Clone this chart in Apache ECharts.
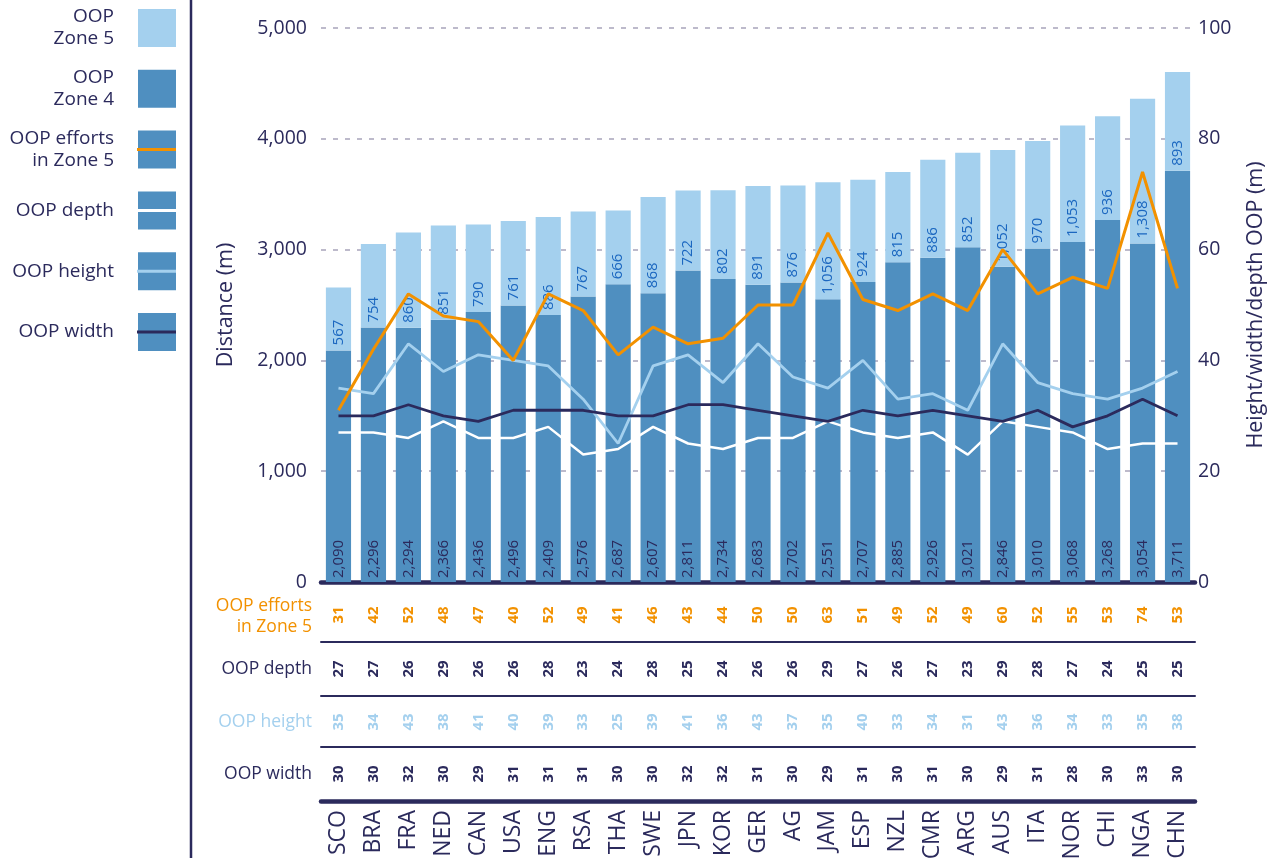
<!DOCTYPE html>
<html>
<head>
<meta charset="utf-8">
<script src="https://cdn.jsdelivr.net/npm/echarts@6/dist/echarts.min.js"></script>
<style>
  html, body { margin: 0; padding: 0; background: #ffffff; }
  #chart { width: 1274px; height: 858px; }
</style>
</head>
<body>
<div id="chart"></div>
<script>
// Teams (x categories)
const categories = ['SCO','BRA','FRA','NED','CAN','USA','ENG','RSA','THA','SWE','JPN','KOR','GER','AG','JAM','ESP','NZL','CMR','ARG','AUS','ITA','NOR','CHI','NGA','CHN'];

// Distance (m) covered out of possession, stacked by zone
const zone4 = [2090,2296,2294,2366,2436,2496,2409,2576,2687,2607,2811,2734,2683,2702,2551,2707,2885,2926,3021,2846,3010,3068,3268,3054,3711];
const zone5 = [567,754,860,851,790,761,886,767,666,868,722,802,891,876,1056,924,815,886,852,1052,970,1053,936,1308,893];

// Out-of-possession shape metrics (m) and efforts in zone 5
const efforts = [31,42,52,48,47,40,52,49,41,46,43,44,50,50,63,51,49,52,49,60,52,55,53,74,53];
const depth   = [27,27,26,29,26,26,28,23,24,28,25,24,26,26,29,27,26,27,23,29,28,27,24,25,25];
const height  = [35,34,43,38,41,40,39,33,25,39,41,36,43,37,35,40,33,34,31,43,36,34,33,35,38];
const width   = [30,30,32,30,29,31,31,31,30,30,32,32,31,30,29,31,30,31,30,29,31,28,30,33,30];

// Axis ranges
const distanceAxis = { min: 0, max: 5000, interval: 1000 };
const metricAxis = { min: 0, max: 100, interval: 20 };

const NAVY = '#2b2a5c';
const ORANGE = '#f29100';
const LIGHT = '#a4d0ee';
const MID = '#4f8fc0';
const Z5TEXT = '#1b67c0';
const FONT = 'Open Sans';

const fmt = v => String(v).replace(/\B(?=(\d{3})+(?!\d))/g, ',');

const GRID = { left: 321, right: 79, top: 28, bottom: 276, outerBoundsMode: 'none', containLabel: false };

// Table rows under the chart: values, colour, vertical offset from the axis line
const rows = [
  { values: efforts, color: ORANGE, offset: 33 },
  { values: depth, color: NAVY, offset: 87 },
  { values: height, color: LIGHT, offset: 140 },
  { values: width, color: NAVY, offset: 192 }
];
// Row captions at the left of the table
const rowNames = [
  { name: 'OOP efforts', color: ORANGE, offset: 24 },
  { name: 'in Zone 5', color: ORANGE, offset: 45 },
  { name: 'OOP depth', color: NAVY, offset: 87 },
  { name: 'OOP height', color: LIGHT, offset: 140 },
  { name: 'OOP width', color: NAVY, offset: 192 }
];
const separators = [60, 114, 165];

const hidden = { axisLine: { show: false }, axisTick: { show: false }, splitLine: { show: false } };

const xAxes = [];
// main category axis (bars and lines)
xAxes.push({
  type: 'category', data: categories, gridIndex: 0, position: 'bottom',
  axisLine: { show: true, lineStyle: { color: NAVY, width: 4.5 } },
  axisTick: { show: false }, axisLabel: { show: false }, splitLine: { show: false }
});
rows.forEach(r => {
  xAxes.push(Object.assign({
    type: 'category', data: categories, gridIndex: 0, position: 'bottom', offset: r.offset,
    axisLabel: {
      interval: 0, rotate: 90, margin: 0, align: 'center', verticalAlign: 'middle',
      color: r.color, fontFamily: FONT, fontWeight: 'bold', fontSize: 15,
      formatter: (v, i) => String(r.values[i])
    }
  }, hidden));
});
rowNames.forEach(r => {
  xAxes.push(Object.assign({
    type: 'category', data: categories, gridIndex: 0, position: 'bottom', offset: r.offset,
    axisLabel: { show: false },
    name: r.name, nameLocation: 'start', nameGap: 9, nameMoveOverlap: false,
    nameTextStyle: { color: r.color, fontFamily: FONT, fontSize: 17.5, align: 'right', verticalAlign: 'middle' }
  }, hidden));
});
separators.forEach(off => {
  xAxes.push({
    type: 'category', data: categories, gridIndex: 0, position: 'bottom', offset: off,
    axisLine: { show: true, lineStyle: { color: NAVY, width: 2 } },
    axisTick: { show: false }, axisLabel: { show: false }, splitLine: { show: false }
  });
});
// team names row
xAxes.push({
  type: 'category', data: categories, gridIndex: 0, position: 'bottom', offset: 219,
  axisLine: { show: true, lineStyle: { color: NAVY, width: 4.5 } },
  axisTick: { show: false }, splitLine: { show: false },
  axisLabel: { interval: 0, rotate: 90, margin: 9, color: NAVY, fontFamily: FONT, fontSize: 23 }
});

// Legend drawn as swatches with text on the left side
const legendItems = [
  { text: 'OOP\nZone 5', fill: LIGHT, line: null },
  { text: 'OOP\nZone 4', fill: MID, line: null },
  { text: 'OOP efforts\nin Zone 5', fill: MID, line: ORANGE },
  { text: 'OOP depth', fill: MID, line: '#ffffff' },
  { text: 'OOP height', fill: MID, line: LIGHT },
  { text: 'OOP width', fill: MID, line: NAVY }
];
const graphics = [];
legendItems.forEach((it, i) => {
  const top = 9 + i * 60.8;
  graphics.push({ type: 'rect', shape: { x: 138, y: top, width: 38, height: 38 }, style: { fill: it.fill } });
  if (it.line) {
    graphics.push({ type: 'line', shape: { x1: 137, y1: top + 19, x2: 176, y2: top + 19 }, style: { stroke: it.line, lineWidth: 3 } });
  }
  graphics.push({
    type: 'text', x: 114, y: top + 19,
    style: { text: it.text, fill: NAVY, font: '19px "Open Sans"', align: 'right', verticalAlign: 'middle', lineHeight: 22 }
  });
});
graphics.push({ type: 'line', shape: { x1: 191, y1: 0, x2: 191, y2: 858 }, style: { stroke: NAVY, lineWidth: 2.5 } });

const lineSeries = (name, data, color, w) => ({
  name, type: 'line', data, xAxisIndex: 0, yAxisIndex: 1,
  symbol: 'none', lineStyle: { color, width: w }, itemStyle: { color }, z: 5
});

const option = {
  animation: false,
  backgroundColor: '#ffffff',
  textStyle: { fontFamily: FONT },
  grid: GRID,
  graphic: graphics,
  xAxis: xAxes,
  yAxis: [
    {
      type: 'value', min: distanceAxis.min, max: distanceAxis.max, interval: distanceAxis.interval,
      axisLine: { show: false }, axisTick: { show: false },
      axisLabel: { color: NAVY, fontFamily: FONT, fontSize: 19.5, margin: 14, formatter: fmt },
      splitLine: { show: true, lineStyle: { color: '#a8a4ba', width: 1.5, type: [5, 7] } },
      name: 'Distance (m)', nameLocation: 'middle', nameRotate: 90, nameGap: 84,
      nameTextStyle: { color: NAVY, fontFamily: FONT, fontSize: 21.5 }
    },
    {
      type: 'value', min: metricAxis.min, max: metricAxis.max, interval: metricAxis.interval,
      axisLine: { show: false }, axisTick: { show: false }, splitLine: { show: false },
      axisLabel: { color: NAVY, fontFamily: FONT, fontSize: 19.5, margin: 3 },
      name: 'Height/width/depth OOP (m)', nameLocation: 'middle', nameRotate: 90, nameGap: 50,
      nameTextStyle: { color: NAVY, fontFamily: FONT, fontSize: 21.5 }
    }
  ],
  series: [
    {
      name: 'OOP Zone 4', type: 'bar', stack: 'dist', data: zone4, barWidth: '72%',
      itemStyle: { color: MID },
      label: {
        show: true, position: 'insideBottom', distance: 4, rotate: 90, align: 'left', verticalAlign: 'middle',
        color: NAVY, fontFamily: FONT, fontSize: 15, formatter: p => fmt(p.value)
      }
    },
    {
      name: 'OOP Zone 5', type: 'bar', stack: 'dist', data: zone5, barWidth: '72%',
      itemStyle: { color: LIGHT },
      label: {
        show: true, position: 'insideBottom', distance: 5, rotate: 90, align: 'left', verticalAlign: 'middle',
        color: Z5TEXT, fontFamily: FONT, fontSize: 15, formatter: p => fmt(p.value)
      }
    },
    lineSeries('OOP depth', depth, '#ffffff', 2.5),
    lineSeries('OOP height', height, LIGHT, 2.8),
    lineSeries('OOP width', width, NAVY, 2.8),
    lineSeries('OOP efforts in Zone 5', efforts, ORANGE, 3)
  ]
};

const chart = echarts.init(document.getElementById('chart'), null, { renderer: 'canvas' });
chart.setOption(option);
</script>
</body>
</html>
